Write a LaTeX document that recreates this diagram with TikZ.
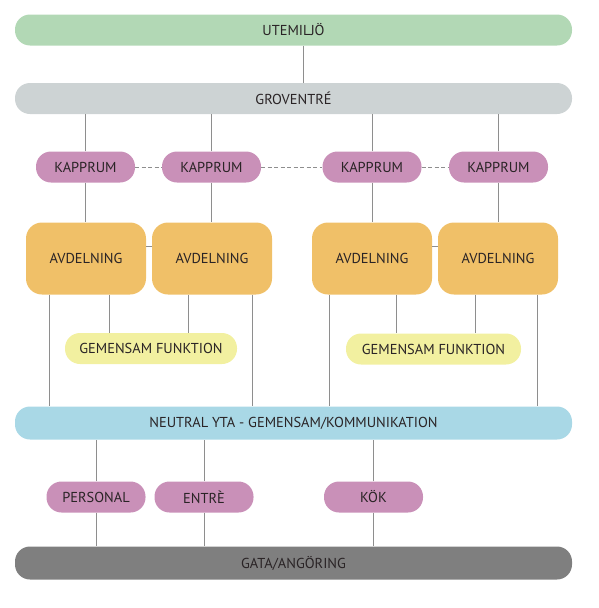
\documentclass[tikz,border=0pt]{standalone}
\usepackage{fontspec}
\setmainfont{PT Sans}
\definecolor{cgreen}{HTML}{B2D8B5}
\definecolor{cgrey}{HTML}{CDD3D4}
\definecolor{cpink}{HTML}{C990B8}
\definecolor{corange}{HTML}{F0C068}
\definecolor{cyellow}{HTML}{F2F0A0}
\definecolor{cblue}{HTML}{A9D8E6}
\definecolor{cdark}{HTML}{7F7F7F}
\definecolor{ctext}{HTML}{2A2426}
\definecolor{cline}{HTML}{8E8E8E}
\begin{document}
\begin{tikzpicture}[x=1pt,y=-1pt,
  base/.style={rectangle,draw=none,inner sep=0pt,text=ctext,font=\fontsize{14.4}{16}\selectfont},
  bar/.style={base,rounded corners=15pt,minimum width=557pt,minimum height=31pt},
  pill/.style={base,fill=cpink,rounded corners=15pt,minimum width=99pt,minimum height=31pt},
  avd/.style={base,fill=corange,rounded corners=16pt,minimum width=120pt,minimum height=72pt},
  gem/.style={base,fill=cyellow,rounded corners=15pt,minimum height=31pt},
  conn/.style={draw=cline,line width=0.9pt},
  dconn/.style={conn,dash pattern=on 4pt off 2.5pt}]
\useasboundingbox (0,0) rectangle (598,608);
% bars
\node[bar,fill=cgreen] (ute) at (293.5,30) {UTEMILJÖ};
\node[bar,fill=cgrey] (grov) at (293.5,98.5) {GROVENTRÉ};
\node[bar,fill=cblue,minimum height=33pt] (neutral) at (293.5,423) {NEUTRAL YTA - GEMENSAM/KOMMUNIKATION};
\node[bar,fill=cdark,minimum height=33pt] (gata) at (293.5,563) {GATA/ANGÖRING};
% kapprum
\node[pill] (k1) at (85.5,167) {KAPPRUM};
\node[pill] (k2) at (211.5,167) {KAPPRUM};
\node[pill] (k3) at (372,167) {KAPPRUM};
\node[pill] (k4) at (498.5,167) {KAPPRUM};
% avdelning
\node[avd] (a1) at (86,258.5) {AVDELNING};
\node[avd] (a2) at (212,258.5) {AVDELNING};
\node[avd] (a3) at (372,258.5) {AVDELNING};
\node[avd] (a4) at (498,258.5) {AVDELNING};
% gemensam
\node[gem,minimum width=172pt] (g1) at (151,348.5) {GEMENSAM FUNKTION};
\node[gem,minimum width=175pt] (g2) at (433.5,349) {GEMENSAM FUNKTION};
% bottom pills
\node[pill] (pers) at (96,497) {PERSONAL};
\node[pill] (entre) at (204,497) {ENTRÈ};
\node[pill] (kok) at (373.5,497) {KÖK};
% connectors
\draw[conn] ([xshift=9.5pt]ute.south) -- ([xshift=9.5pt]grov.north);
\foreach \k in {k1,k2,k3,k4}{
  \draw[conn] (\k.north) -- (\k.north |- grov.south);
}
\draw[conn] (k1.south) -- (a1.north -| k1.south);
\draw[conn] (k2.south) -- (a2.north -| k2.south);
\draw[conn] (k3.south) -- (a3.north -| k3.south);
\draw[conn] (k4.south) -- (a4.north -| k4.south);
\draw[dconn] (k1.east) -- (k2.west);
\draw[dconn] (k2.east) -- (k3.west);
\draw[dconn] (k3.east) -- (k4.west);
\draw[conn] ([yshift=12.5pt]a1.east) -- ([yshift=12.5pt]a2.west);
\draw[conn] ([yshift=12.5pt]a3.east) -- ([yshift=12.5pt]a4.west);
% avdelning to neutral / gemensam
\draw[conn] ([xshift=-37pt]a1.south) -- ([xshift=-37pt]a1.south |- neutral.north);
\draw[conn] ([xshift=23pt]a1.south) -- ([xshift=23pt]a1.south |- g1.north);
\draw[conn] ([xshift=-24pt]a2.south) -- ([xshift=-24pt]a2.south |- g1.north);
\draw[conn] ([xshift=40pt]a2.south) -- ([xshift=40pt]a2.south |- neutral.north);
\draw[conn] ([xshift=-43pt]a3.south) -- ([xshift=-43pt]a3.south |- neutral.north);
\draw[conn] ([xshift=24pt]a3.south) -- ([xshift=24pt]a3.south |- g2.north);
\draw[conn] ([xshift=-23pt]a4.south) -- ([xshift=-23pt]a4.south |- g2.north);
\draw[conn] ([xshift=39pt]a4.south) -- ([xshift=39pt]a4.south |- neutral.north);
% bottom
\foreach \p in {pers,entre,kok}{
  \draw[conn] (\p.north) -- (\p.north |- neutral.south);
  \draw[conn] (\p.south) -- (\p.south |- gata.north);
}
\end{tikzpicture}
\end{document}
